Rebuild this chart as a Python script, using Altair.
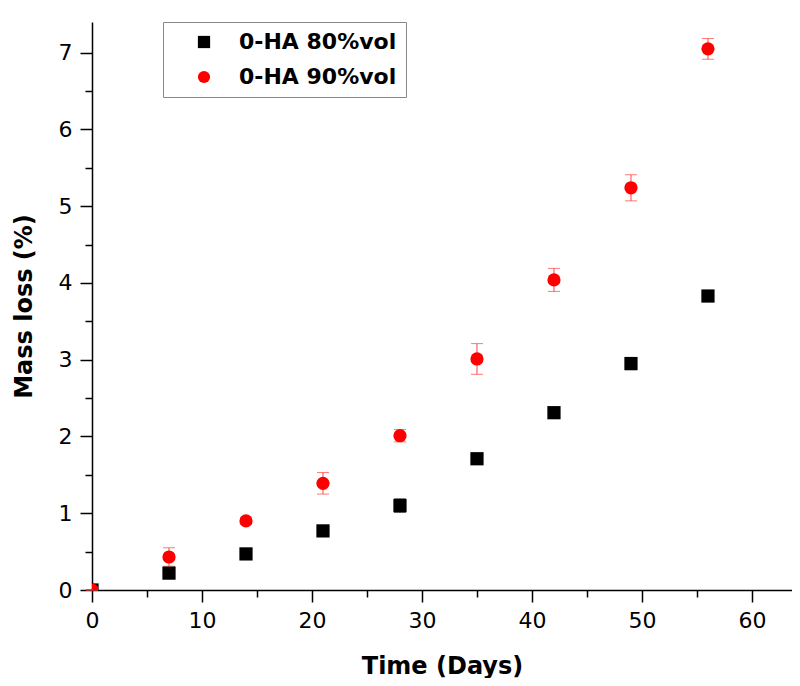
import altair as alt
import pandas as pd

days = [0, 7, 14, 21, 28, 35, 42, 49, 56]
loss_80 = [0, 0.22, 0.47, 0.77, 1.10, 1.71, 2.31, 2.95, 3.83]
err_80 = [0, 0.03, 0.03, 0.03, 0.09, 0.03, 0.06, 0.08, 0.04]
loss_90 = [0, 0.43, 0.90, 1.39, 2.01, 3.01, 4.04, 5.24, 7.05]
err_90 = [0, 0.12, 0.04, 0.14, 0.08, 0.20, 0.15, 0.17, 0.135]
series = ["0-HA 80%vol", "0-HA 90%vol"]
x_ticks = list(range(0, 61, 5))
y_ticks = [i * 0.5 for i in range(0, 15)]

rows = []
for d, v, e in zip(days, loss_80, err_80):
    rows.append({"day": d, "loss": v, "err": e, "series": series[0]})
for d, v, e in zip(days, loss_90, err_90):
    rows.append({"day": d, "loss": v, "err": e, "series": series[1]})
df = pd.DataFrame(rows)

x_scale = alt.Scale(domain=[0, 63.64], nice=False, zero=False)
y_scale = alt.Scale(domain=[0, 7.4], nice=False)

x_axis = alt.Axis(
    title="Time (Days)",
    values=x_ticks,
    labelExpr="datum.value % 10 ? '' : format(datum.value, 'd')",
    tickSize={"condition": {"test": "datum.value % 10", "value": 7}, "value": 12},
    labelPadding=8,
    titlePadding=23,
    labelFlush=False,
)
y_axis = alt.Axis(
    title="Mass loss (%)",
    values=y_ticks,
    labelExpr="datum.value % 1 ? '' : format(datum.value, 'd')",
    tickSize={"condition": {"test": "datum.value % 1", "value": 7}, "value": 12},
    labelPadding=8,
    titlePadding=22,
    labelFlush=False,
)

base = alt.Chart(df).transform_calculate(
    lo="datum.loss - datum.err", hi="datum.loss + datum.err"
)

err_layers = []
for s, col in zip(series, ["#333333", "#ff4040"]):
    b = base.transform_filter(alt.datum.series == s)
    err_layers.append(
        b.mark_rule(color=col, strokeWidth=1).encode(
            x=alt.X("day:Q", scale=x_scale, axis=x_axis),
            y=alt.Y("lo:Q", scale=y_scale, axis=y_axis),
            y2="hi:Q",
        )
    )
    for f in ["lo", "hi"]:
        err_layers.append(
            b.mark_tick(color=col, orient="horizontal", size=12, thickness=1).encode(
                x=alt.X("day:Q", scale=x_scale, axis=x_axis),
                y=alt.Y(f + ":Q", scale=y_scale, axis=y_axis),
            )
        )

points = base.mark_point(filled=True, opacity=1, size=175, clip=True).encode(
    x=alt.X("day:Q", scale=x_scale, axis=x_axis),
    y=alt.Y("loss:Q", scale=y_scale, axis=y_axis),
    color=alt.Color(
        "series:N",
        scale=alt.Scale(domain=series, range=["#000000", "#ff0000"]),
        legend=alt.Legend(title=None),
    ),
    shape=alt.Shape(
        "series:N",
        scale=alt.Scale(domain=series, range=["square", "circle"]),
        legend=alt.Legend(title=None),
    ),
)

chart = (
    alt.layer(*err_layers, points)
    .properties(
        width=700,
        height=568,
        autosize=alt.AutoSizeParams(type="none"),
        padding={"left": 84, "top": 14, "right": 0, "bottom": 88},
    )
    .configure_view(stroke=None)
    .configure_axis(
        grid=False,
        domainColor="black",
        domainWidth=1.5,
        tickColor="black",
        tickWidth=1.5,
        labelFont="DejaVu Sans",
        labelFontSize=22,
        labelColor="black",
        titleFont="DejaVu Sans",
        titleFontWeight="bold",
        titleFontSize=24,
        titleColor="black",
    )
    .configure_legend(
        orient="none",
        legendX=71,
        legendY=0,
        strokeColor="#888888",
        fillColor="white",
        padding=9,
        symbolOffset=21,
        labelOffset=24,
        rowPadding=13,
        labelFont="DejaVu Sans",
        labelFontWeight="bold",
        labelFontSize=22,
        labelColor="black",
        symbolSize=150,
        symbolStrokeWidth=0,
    )
)

chart.save("out.html", embed_options={"renderer": "svg", "actions": False})
